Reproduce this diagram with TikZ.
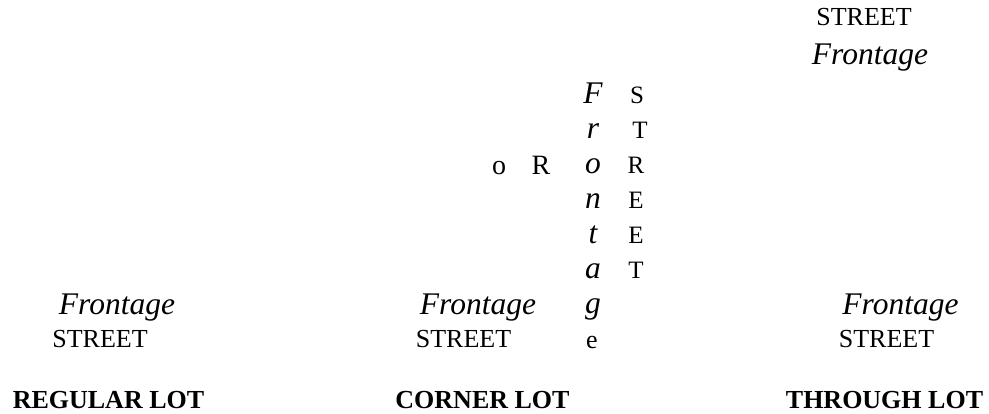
\documentclass[tikz,border=0pt]{standalone}
\usepackage{fontspec}
\setmainfont{Liberation Serif}
\begin{document}
\begin{tikzpicture}[x=1pt,y=-1pt,
  every node/.style={inner sep=0pt,outer sep=0pt,anchor=base},
  street/.style={font=\fontsize{26}{26}\selectfont},
  vstreet/.style={font=\fontsize{25}{25}\selectfont},
  front/.style={font=\fontsize{31.5}{31.5}\selectfont\itshape},
  lotlabel/.style={font=\fontsize{26}{26}\selectfont\bfseries}]
\useasboundingbox (0,0) rectangle (989,413);
% Regular lot
\node[front] (rf) at (117,314) {Frontage};
\node[street] (rs) at (100,347.5) {STREET};
\node[lotlabel] (rl) at (108.5,408.5) {REGULAR LOT};
% Corner lot
\node[front] (cf) at (478,314) {Frontage};
\node[street] (cs) at (463.5,347.5) {STREET};
\node[lotlabel] (cl) at (482.5,408.5) {CORNER LOT};
\node[font=\fontsize{28}{28}\selectfont] (co) at (499,174) {o};
\node[font=\fontsize{28}{28}\selectfont] (cr) at (541,174) {R};
% vertical Frontage
\node[front] (v1) at (593,103) {F};
\node[front] (v2) at (593,138) {r};
\node[front] (v3) at (593,173) {o};
\node[front] (v4) at (593,208) {n};
\node[front] (v5) at (593,243) {t};
\node[front] (v6) at (593,278) {a};
\node[front] (v7) at (593,313) {g};
\node[street] (v8) at (592,348) {e};
% vertical STREET
\node[vstreet] (s1) at (637,103) {S};
\node[vstreet] (s2) at (640,138) {T};
\node[vstreet] (s3) at (636,173) {R};
\node[vstreet] (s4) at (636,208) {E};
\node[vstreet] (s5) at (636,243) {E};
\node[vstreet] (s6) at (636,278) {T};
% Through lot
\node[street] (ts) at (864,25) {STREET};
\node[front] (tf) at (870,64) {Frontage};
\node[front] (bf) at (900.5,314) {Frontage};
\node[street] (bs) at (886.5,347.5) {STREET};
\node[lotlabel] (tl) at (884.5,408.5) {THROUGH LOT};
\end{tikzpicture}
\end{document}
